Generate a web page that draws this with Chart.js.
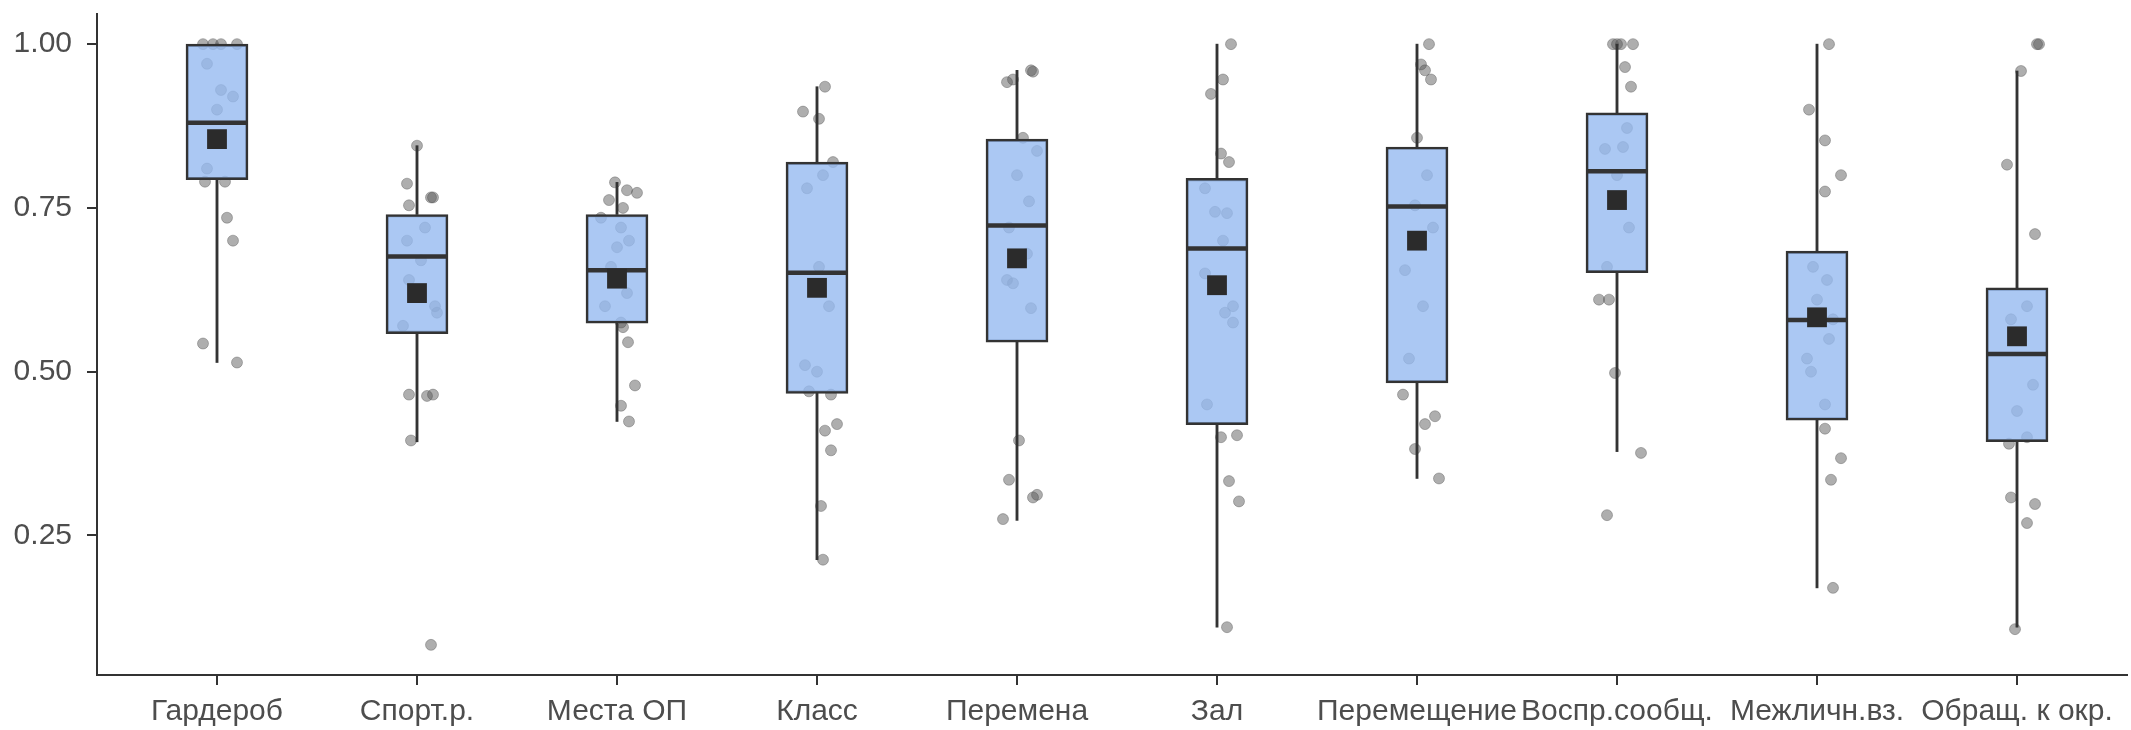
<!DOCTYPE html>
<html>
<head>
<meta charset="utf-8">
<script src="https://cdn.jsdelivr.net/npm/chart.js@4"></script>
<style>
html,body{margin:0;padding:0;background:#fff;}
#wrap{width:2131px;height:730px;}
</style>
</head>
<body>
<div id="wrap"><canvas id="c" width="2131" height="730"></canvas></div>
<script>
const categories = ["Гардероб","Спорт.р.","Места ОП","Класс","Перемена","Зал","Перемещение","Воспр.сообщ.","Межличн.вз.","Обращ. к окр."];
const q1 =        [0.793, 0.558, 0.574, 0.467, 0.545, 0.419, 0.483, 0.651, 0.426, 0.393];
const medians =   [0.880, 0.676, 0.655, 0.651, 0.723, 0.688, 0.752, 0.806, 0.579, 0.527];
const q3 =        [1.000, 0.740, 0.740, 0.820, 0.855, 0.795, 0.843, 0.895, 0.684, 0.628];
const whiskerLo = [0.514, 0.393, 0.424, 0.213, 0.273, 0.110, 0.337, 0.378, 0.170, 0.110];
const whiskerHi = [1.000, 0.845, 0.789, 0.935, 0.960, 1.000, 1.000, 1.000, 1.000, 0.959];
const means =     [0.855, 0.620, 0.642, 0.628, 0.673, 0.632, 0.700, 0.762, 0.583, 0.554];
const yTicks = [0.25, 0.50, 0.75, 1.00];

// individual observations (value) and their horizontal jitter (category units)
const obsValues = [
  [1.0,1.0,1.0,1.0,0.97,0.93,0.92,0.90,0.81,0.79,0.79,0.735,0.70,0.543,0.514],
  [0.845,0.787,0.766,0.766,0.754,0.72,0.70,0.67,0.64,0.60,0.59,0.57,0.465,0.463,0.465,0.395,0.083],
  [0.789,0.777,0.773,0.762,0.75,0.735,0.72,0.70,0.69,0.66,0.62,0.60,0.575,0.568,0.545,0.479,0.448,0.424],
  [0.935,0.897,0.886,0.82,0.80,0.78,0.66,0.60,0.51,0.50,0.47,0.465,0.42,0.41,0.38,0.295,0.213],
  [0.96,0.958,0.946,0.942,0.857,0.837,0.80,0.76,0.72,0.68,0.64,0.635,0.597,0.395,0.335,0.312,0.308,0.275],
  [1.0,0.946,0.924,0.833,0.82,0.78,0.744,0.742,0.70,0.65,0.60,0.59,0.575,0.45,0.403,0.40,0.333,0.302,0.11],
  [1.0,0.969,0.96,0.946,0.857,0.80,0.754,0.72,0.655,0.60,0.52,0.465,0.432,0.42,0.382,0.337],
  [1.0,1.0,1.0,1.0,0.965,0.935,0.872,0.843,0.84,0.80,0.72,0.66,0.61,0.61,0.498,0.376,0.281],
  [1.0,0.90,0.853,0.80,0.775,0.66,0.64,0.61,0.58,0.55,0.52,0.50,0.45,0.413,0.368,0.335,0.17],
  [1.0,1.0,0.959,0.816,0.71,0.60,0.58,0.55,0.48,0.44,0.40,0.39,0.308,0.298,0.269,0.107]
];
const obsJitter = [
  [-0.07,-0.02,0.02,0.10,-0.05,0.02,0.08,0.0,-0.05,-0.06,0.04,0.05,0.08,-0.07,0.10],
  [0.0,-0.05,0.07,0.08,-0.04,0.04,-0.05,0.02,-0.04,0.09,0.10,-0.07,-0.04,0.05,0.08,-0.03,0.07],
  [-0.01,0.05,0.10,-0.04,0.03,-0.08,0.02,0.06,0.0,-0.03,0.05,-0.06,0.02,0.03,0.055,0.09,0.02,0.06],
  [0.04,-0.07,0.01,0.08,0.03,-0.05,0.01,0.06,-0.06,0.0,-0.04,0.07,0.10,0.04,0.07,0.02,0.03],
  [0.07,0.08,-0.02,-0.05,0.03,0.10,0.0,0.06,-0.04,0.05,-0.05,-0.02,0.07,0.01,-0.04,0.10,0.08,-0.07],
  [0.07,0.03,-0.03,0.02,0.06,-0.06,-0.01,0.05,0.03,-0.06,0.08,0.04,0.08,-0.05,0.10,0.02,0.06,0.11,0.05],
  [0.06,0.02,0.04,0.07,0.0,0.05,-0.01,0.08,-0.06,0.03,-0.04,-0.07,0.09,0.04,-0.01,0.11],
  [-0.02,0.0,0.02,0.08,0.04,0.07,0.05,0.03,-0.06,0.0,0.06,-0.05,-0.09,-0.04,-0.01,0.12,-0.05],
  [0.06,-0.04,0.04,0.12,0.04,-0.02,0.05,0.0,0.08,0.06,-0.05,-0.03,0.04,0.04,0.12,0.07,0.08],
  [0.11,0.10,0.02,-0.05,0.09,0.05,-0.03,0.02,0.08,0.0,0.05,-0.04,-0.03,0.09,0.05,-0.01]
];

const idx = categories.map((_, i) => i);
const points = [];
obsValues.forEach((arr, i) => arr.forEach((v, k) => points.push({x: i + obsJitter[i][k], y: v})));

const DARK = '#333333';
const FONT = {family: "'Liberation Sans', Arial, sans-serif", size: 30};

new Chart(document.getElementById('c'), {
  data: {
    datasets: [
      {
        type: 'scatter', order: 5,
        data: points,
        pointRadius: 5.5, pointHoverRadius: 5.5,
        backgroundColor: 'rgba(85,85,85,0.48)',
        borderColor: 'rgba(70,70,70,0.35)', borderWidth: 1
      },
      {
        type: 'bar', order: 4, grouped: false,
        data: idx.map(i => ({x: i, y: [q3[i], whiskerHi[i]]})),
        backgroundColor: DARK, borderWidth: 0, barThickness: 2.2
      },
      {
        type: 'bar', order: 4, grouped: false,
        data: idx.map(i => ({x: i, y: [whiskerLo[i], q1[i]]})),
        backgroundColor: DARK, borderWidth: 0, barThickness: 2.2
      },
      {
        type: 'bar', order: 3, grouped: false,
        data: idx.map(i => ({x: i, y: [q1[i], q3[i]]})),
        backgroundColor: 'rgba(150,186,240,0.80)',
        borderColor: DARK, borderWidth: 2.5, borderSkipped: false,
        barThickness: 62
      },
      {
        type: 'scatter', order: 2,
        data: idx.map(i => ({x: i, y: medians[i]})),
        pointStyle: 'line', pointRadius: 30, pointHoverRadius: 30,
        borderColor: DARK, borderWidth: 4.5
      },
      {
        type: 'scatter', order: 1,
        data: idx.map(i => ({x: i, y: means[i]})),
        pointStyle: 'rect', pointRadius: 14, pointHoverRadius: 14,
        backgroundColor: '#2b2b2b', borderColor: '#2b2b2b', borderWidth: 0
      }
    ]
  },
  options: {
    responsive: false,
    animation: false,
    devicePixelRatio: 1,
    layout: {autoPadding: false, padding: {top: 14, right: 4, left: 0, bottom: 0}},
    plugins: {legend: {display: false}, tooltip: {enabled: false}},
    scales: {
      x: {
        type: 'linear', min: -0.6, max: 9.55, offset: false,
        afterBuildTicks: s => { s.ticks = idx.map(i => ({value: i})); },
        afterFit: s => { s.height = 55; s.paddingLeft = 0; s.paddingRight = 0; },
        ticks: {
          autoSkip: false, maxRotation: 0, minRotation: 0, padding: 9,
          color: '#4d4d4d', font: FONT,
          callback: v => categories[v] ?? ''
        },
        grid: {display: true, offset: false, drawOnChartArea: false, drawTicks: true, tickLength: 10, color: DARK, lineWidth: 2},
        border: {display: true, color: DARK, width: 2}
      },
      y: {
        type: 'linear', min: 0.037, max: 1.046,
        afterBuildTicks: s => { s.ticks = yTicks.map(v => ({value: v})); },
        afterFit: s => { s.width = 97; s.paddingTop = 0; s.paddingBottom = 0; },
        ticks: {
          padding: 15, color: '#4d4d4d', font: FONT,
          callback: v => Number(v).toFixed(2)
        },
        grid: {display: true, drawOnChartArea: false, drawTicks: true, tickLength: 10, color: DARK, lineWidth: 2},
        border: {display: true, color: DARK, width: 2}
      }
    }
  }
});
</script>
</body>
</html>
